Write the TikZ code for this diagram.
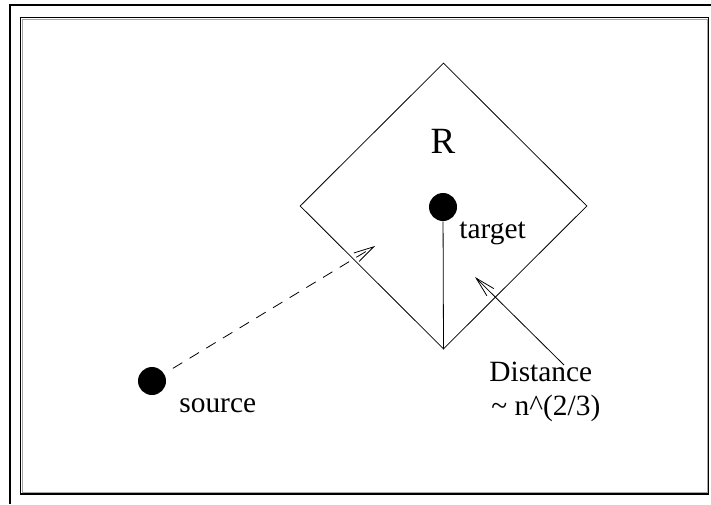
\documentclass[tikz,border=0pt]{standalone}
\usepackage{fontspec}
\setmainfont{Liberation Serif}
\usetikzlibrary{arrows.meta,shapes.geometric}

\begin{document}
\begin{tikzpicture}[x=1pt,
            y=-1pt,
            >={Straight Barb[length=20pt,width=10pt]},
            line width=0.8pt,
            dot/.style={circle, fill, inner sep=0pt, minimum size=28pt},
            lbl/.style={inner sep=0pt, font=\fontsize{29.4}{34}\selectfont}]

        \useasboundingbox (0,0) rectangle (711,504);

        % page frame
        \draw[line width=2.5pt] (10,504) -- (10,5) -- (711,5);
        \draw[line width=1.3pt] (20.7,17.8) rectangle (708.3,494);
        \draw[gray!70] (22,19) rectangle (707,492.8);

        \node[diamond, draw, inner sep=0pt,
              minimum width=287pt, minimum height=286pt] (region) at (443.5,206) {};
        \node[dot]                 (target) at (443,207) {};
        \node[dot]                 (source) at (152,381) {};

        \node[lbl, anchor=base, font=\fontsize{37}{44}\selectfont] (rlabel) at (443,153) {R};
        \node[lbl, anchor=base west] (tlabel) at (459,238) {target};
        \node[lbl, anchor=base west] (slabel) at (179,412) {source};
        \node[lbl, anchor=base west] (dlabel) at (489,381) {Distance};
        \node[lbl, anchor=base west] (nlabel) at (491,415) {\textasciitilde{} n\textasciicircum(2/3)};

        \coordinate (aim)   at (375,246);
        \coordinate (dtail) at (564,365);
        \coordinate (dtip)  at (475,277);

        \draw (target) -- (region.south);
        \draw[->, dash pattern=on 11pt off 8.5pt, shorten <=10pt] (source) -- (aim);
        \draw[->] (dtail) -- (dtip);

    \end{tikzpicture}
\end{document}
